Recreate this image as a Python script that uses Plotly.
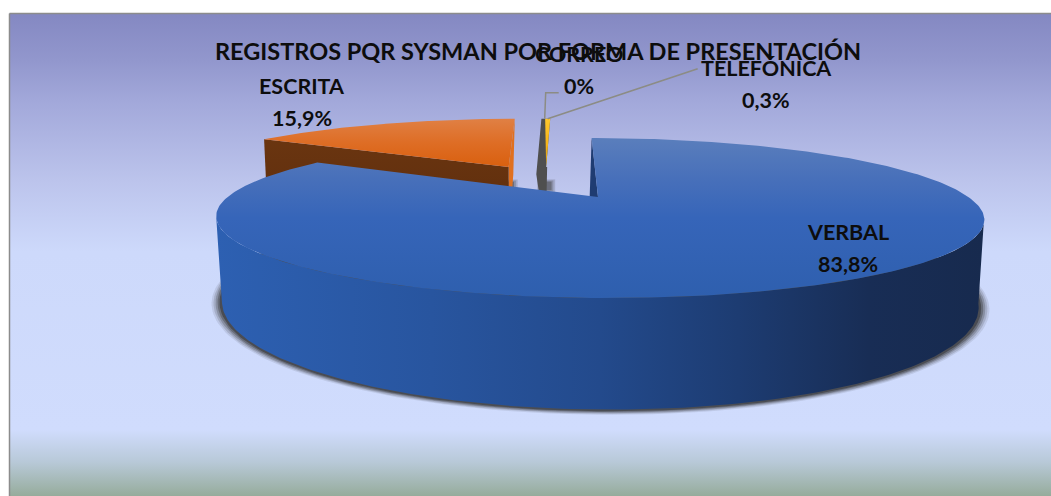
import math
import plotly.graph_objects as go

# ---- data ----
categories = ["VERBAL", "ESCRITA", "CORREO", "TELEFÓNICA"]
values = [83.8, 15.9, 0.0, 0.3]
value_labels = ["83,8%", "15,9%", "0%", "0,3%"]
title_text = "REGISTROS PQR SYSMAN POR FORMA DE PRESENTACIÓN"

# ---- styles and layout ----
W, H = 1051, 496
FONT = "Lato"
# explosion of each slice in disc units: (radius, direction in degrees)
explode = [(0, 0), (0.52, 330), (0.475, 342), (0.475, 342)]
label_xy = [(848, 248), (302, 102), (579, 70), (766, 84)]
R, B = 370.5, 0.2625
TOP = dict(x0=598, y0=197, a=74.5, shear=-8, k=1.0)
LOW = dict(x0=597.5, y0=277, a=97.8, shear=-10, k=0.985)


def project(u, v, p):
    d = 1 + B * v
    return (p["x0"] + p["k"] * R * u / d + p["shear"] * v / d, p["y0"] - p["a"] * v / d)


def rim(theta, p, off=(0, 0), scale=1.0):
    t = math.radians(theta)
    return project(scale * math.sin(t) + off[0], scale * math.cos(t) + off[1], p)


def offset(i):
    e, a = explode[i]
    return (e * math.sin(math.radians(a)), e * math.cos(math.radians(a)))


def arc(a, b, p, off=(0, 0), scale=1.0, n=160):
    return [rim(a + (b - a) * j / n, p, off, scale) for j in range(n + 1)]


# slice angles from the values, clockwise from the top
angles = []
acc = 0.0
total = sum(values)
for val in values:
    angles.append((acc, acc + 360 * val / total))
    acc += 360 * val / total

fig = go.Figure()


def poly(pts, colors=None, kind="vertical", solid=None, opacity=1.0, line=None):
    xs = [q[0] for q in pts] + [pts[0][0]]
    ys = [q[1] for q in pts] + [pts[0][1]]
    kw = dict(x=xs, y=ys, mode="lines", fill="toself", hoverinfo="skip",
              showlegend=False, opacity=opacity, line=line or dict(width=0))
    if colors:
        # the y axis runs downward, so vertical scales are listed from the top of the picture
        if kind == "vertical":
            colors = sorted([[1 - t, c] for t, c in colors])
        kw["fillgradient"] = dict(type=kind, colorscale=colors)
    else:
        kw["fillcolor"] = solid
    fig.add_trace(go.Scatter(**kw))


# background panel
bg_stops = [(13, "#8488c2"), (60, "#9297cd"), (100, "#a2a8da"), (180, "#bcc4ec"),
            (250, "#cdd9fb"), (428, "#d0dcfd"), (460, "#b8c9d8"), (496, "#94aa98")]
bg_scale = [[(y - 13) / (496 - 13), c] for y, c in bg_stops]
poly([(9.5, 13.5), (W + 2, 13.5), (W + 2, H + 2), (9.5, H + 2)], colors=bg_scale,
     line=dict(width=1.5, color="#8c8c8c"))

# soft shadow of the disc
for s, op in [(1.026, 0.10), (1.021, 0.16), (1.016, 0.24), (1.011, 0.34), (1.006, 0.5)]:
    shadow = dict(LOW)
    shadow["y0"] = LOW["y0"] + 0.5
    poly(arc(0, 360, shadow, scale=s, n=240), solid="#2c2c2c", opacity=op)

# small shadows under the exploded slices
for i in (1, 2):
    ax, ay = project(offset(i)[0], offset(i)[1], TOP)
    for g, op in [(1.0, 0.18), (0.8, 0.25), (0.6, 0.4)]:
        hw, hh = 9 * g, 5.5 * g + 1
        poly([(ax - hw, ay + 19 - hh), (ax + hw, ay + 19 - hh),
              (ax + hw, ay + 19 + hh), (ax - hw, ay + 19 + hh)],
             solid="#3a3a3a", opacity=op)

# ESCRITA faces and top
a0, a1 = angles[1]
off = offset(1)
ap_t, ap_l = project(*off, TOP), project(*off, LOW)
poly([rim(a1, TOP, off), ap_t, ap_l, rim(a1, LOW, off)], solid="#e0701f")
poly([rim(a0, TOP, off), ap_t, ap_l, rim(a0, LOW, off)],
     colors=[[0, "#6a3510"], [1, "#5c2c0c"]])
poly([ap_t] + arc(a0, a1, TOP, off), colors=[[0, "#e08044"], [0.5, "#de6d25"], [1, "#d9600f"]])

# TELEFÓNICA faces and top (CORREO has no area)
a0, a1 = angles[3]
off = offset(3)
ap_t, ap_l = project(*off, TOP), project(*off, LOW)
poly([rim(a0 - 0.8, TOP, off), rim(a1, TOP, off), ap_t, (ap_t[0] + 1, ap_t[1]), ap_l,
      rim(a0 - 1.5, LOW, off)], solid="#4f4f4f")
poly([ap_t] + arc(a0, a1, TOP, off, n=8), colors=[[0, "#ffc72c"], [0.6, "#f5b216"], [1, "#c89a20"]])

# VERBAL faces, rim side and top
a0, a1 = angles[0]
ap_t, ap_l = project(0, 0, TOP), project(0, 0, LOW)
poly([rim(a0, TOP), ap_t, ap_l, rim(a0, LOW)], solid="#1f3c72")
side_scale = [[0, "#2d60b2"], [0.28, "#28559f"], [0.5, "#234a8c"], [0.68, "#1d3c72"],
              [0.85, "#182d55"], [1, "#172a4e"]]
poly(arc(104.7, 255.3, TOP) + arc(255.3, 104.7, LOW), colors=side_scale, kind="horizontal")
poly([ap_t] + arc(a0, a1, TOP, n=320),
     colors=[[0, "#5a7ebc"], [0.25, "#4870ba"], [0.5, "#3665b9"], [1, "#2e5fae"]])

# leader lines
tx, ty = rim(sum(angles[3]) / 2, TOP, offset(3))
fig.add_trace(go.Scatter(x=[tx - 3, tx - 2, tx + 11], y=[ty, ty - 26, ty - 26], mode="lines",
                         line=dict(color="#8c8c84", width=1.5), hoverinfo="skip", showlegend=False))
fig.add_trace(go.Scatter(x=[tx, tx + 150], y=[ty, ty - 50], mode="lines",
                         line=dict(color="#8c8c84", width=1.5), hoverinfo="skip", showlegend=False))

annotations = [dict(x=538, y=51, text=f"<b>{title_text}</b>", showarrow=False,
                    font=dict(family=FONT, size=23.5, color="#0d0d0d"))]
for name, lab, (lx, ly) in zip(categories, value_labels, label_xy):
    annotations.append(dict(x=lx, y=ly - 16, text=f"<b>{name}</b>", showarrow=False,
                            font=dict(family=FONT, size=21.5, color="#0d0d0d")))
    annotations.append(dict(x=lx, y=ly + 16, text=f"<b>{lab}</b>", showarrow=False,
                            font=dict(family=FONT, size=21.5, color="#0d0d0d")))

fig.update_layout(
    width=W, height=H, autosize=False, margin=dict(l=0, r=0, t=0, b=0),
    paper_bgcolor="white", plot_bgcolor="white", showlegend=False,
    xaxis=dict(range=[0, W], visible=False, fixedrange=True),
    yaxis=dict(range=[H, 0], visible=False, fixedrange=True),
    annotations=annotations,
)
fig.write_html("out.html", config={"displayModeBar": False},
               post_script="document.body.style.margin='0';document.documentElement.style.overflow='hidden';")
